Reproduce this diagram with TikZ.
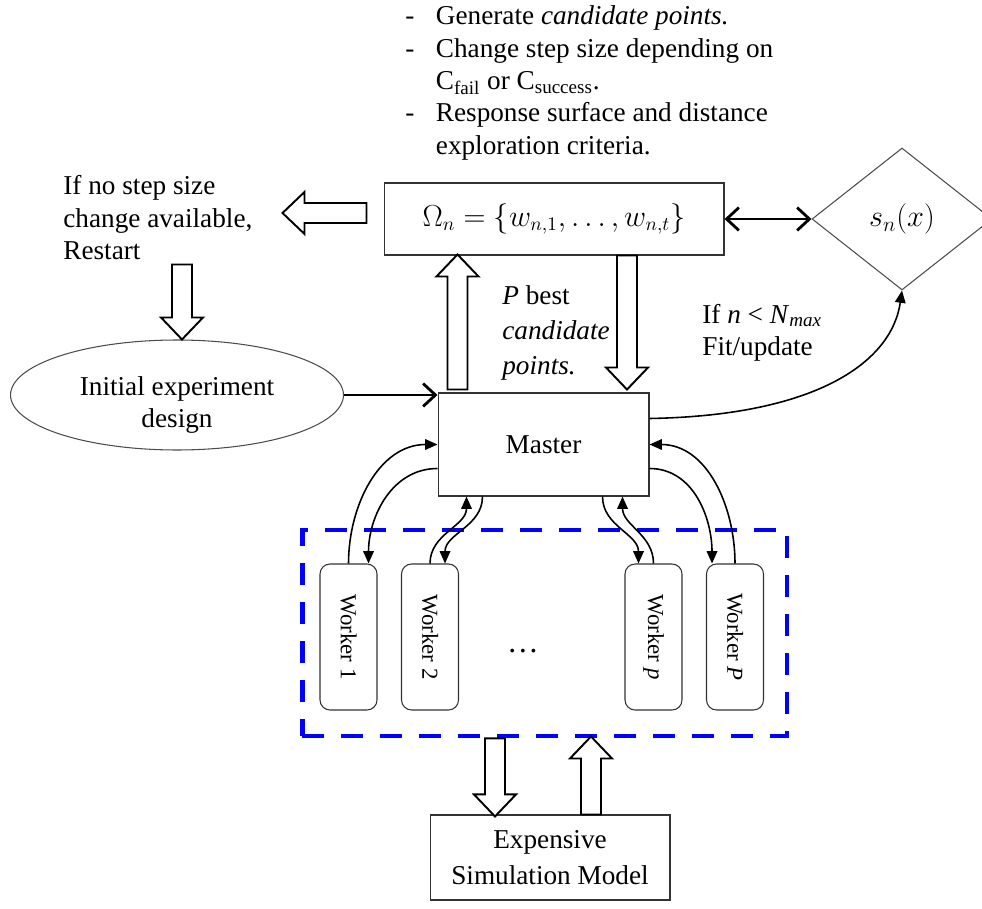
\documentclass[tikz,border=0pt]{standalone}
\usepackage{fontspec}
\setmainfont{Liberation Serif}
\usepackage{graphicx}
\usetikzlibrary{shapes.geometric, arrows.meta, calc}

% block arrow: start point, direction, length
\newcommand{\hollowarrow}[3]{%
  \begin{scope}[shift={#1}, rotate=#2]
    \draw[line width=1.1pt, fill=white] (0,-10) -- (#3-22,-10) -- (#3-22,-21) -- (#3,0)
      -- (#3-22,21) -- (#3-22,10) -- (0,10) -- cycle;
  \end{scope}}

\begin{document}
\begin{tikzpicture}[x=0.02cm, y=-0.02cm, font=\fontsize{15.5}{18.4}\selectfont,
    box/.style={draw=black!80, line width=0.6pt, rectangle, inner sep=0pt},
    worker/.style={draw=black!80, line width=0.6pt, rounded corners=0.2cm, minimum width=1.14cm,
      minimum height=2.92cm, inner sep=0pt, font=\fontsize{13}{15}\selectfont},
    note/.style={inner sep=0pt, anchor=base west},
    link/.style={line width=0.9pt, -{Triangle[length=7pt,width=6pt]}},
    feed/.style={line width=1.6pt, -{Straight Barb[length=7pt,width=13pt]}},
    both/.style={line width=1.6pt, {Straight Barb[length=7pt,width=13pt]}-{Straight Barb[length=7pt,width=13pt]}}]
  \useasboundingbox (0,0) rectangle (982,908);

  % Nodes
  \node[box, minimum width=6.8cm, minimum height=1.44cm, font=\fontsize{16}{19}\selectfont] (omega) at (554,219)
    {$\Omega_n=\{w_{n,1},\dots,w_{n,t}\}$};
  \node[draw=black!70, line width=0.6pt, diamond, minimum width=3.6cm, minimum height=2.84cm, inner sep=0pt,
    font=\fontsize{18}{20}\selectfont] (surr) at (902,219) {$s_n(x)$};
  \node[draw=black!70, line width=0.6pt, ellipse, minimum width=6.66cm, minimum height=2.2cm, inner sep=0pt,
    align=center] (init) at (177,395) {\rule{0pt}{22pt}Initial experiment\\design};
  \node[box, minimum width=4.22cm, minimum height=2.06cm] (master) at (543.5,444.5) {Master};

  \node[draw=blue, line width=2.8pt, dash pattern=on 12.5pt off 9.7pt, minimum width=9.7cm,
    minimum height=4.12cm, inner sep=0pt] (pool) at (544.5,633) {};
  \node[worker] (w1) at (348.5,637) {\rotatebox{-90}{Worker 1}};
  \node[worker] (w2) at (430,637) {\rotatebox{-90}{Worker 2}};
  \node[font=\fontsize{18}{20}\selectfont] (dots) at (523,651) {\dots};
  \node[worker] (wp) at (653.5,637) {\rotatebox{-90}{Worker \textit{p}}};
  \node[worker] (wP) at (735,637) {\rotatebox{-90}{Worker \textit{P}}};

  \node[box, minimum width=4.8cm, minimum height=1.7cm, align=center, font=\fontsize{15.5}{20.5}\selectfont]
    (sim) at (550,857.5) {Expensive\\Simulation Model};

  % Notes
  \node[note] (steps) at (405,25) {\begin{tabular}[t]{@{}l@{\hspace{0.43cm}}l@{}}
      - & Generate \textit{candidate points.}\\
      - & Change step size depending on\\
        & C\textsubscript{fail} or C\textsubscript{success}.\\
      - & Response surface and distance\\
        & exploration criteria.
    \end{tabular}};
  \node[note] (restart) at (63,195) {\begin{tabular}[t]{@{}l@{}}If no step size\\change available,\\Restart\end{tabular}};
  \node[note, font=\fontsize{15.5}{19.8}\selectfont] (best) at (502,305)
    {\begin{tabular}[t]{@{}l@{}}\textit{P} best\\\textit{candidate}\\\textit{points.}\end{tabular}};
  \node[note] (fit) at (702,323)
    {\begin{tabular}[t]{@{}l@{}}If \textit{n} < \textit{N}\textsubscript{\textit{max}}\\Fit/update\end{tabular}};

  % Arrows
  \draw[both] (omega.east) -- (surr.west);
  \draw[feed] (init.east) -- (init.east -| master.west);
  \draw[link] ($(master.east)+(0,-26)$) .. controls +(170,-3) and +(-10,70) .. (surr.south);

  \hollowarrow{($(omega.west)+(-17,-6)$)}{180}{84}
  \hollowarrow{($(init.north)+(5,-75)$)}{-90}{75}
  \hollowarrow{($(master.north west)+(20,-3)$)}{90}{135}
  \hollowarrow{($(omega.south)+(73,0)$)}{-90}{134}
  \hollowarrow{($(pool.south)+(-49.5,0)$)}{-90}{78}
  \hollowarrow{($(sim.north)+(41,0)$)}{90}{78}

  % master <-> workers
  \draw[link] (w1.north) to[out=90,in=180] (master.west);
  \draw[link] ($(master.west)+(0,24)$) to[out=180,in=90] ($(w1.north)+(20,0)$);
  \draw[link] (w2.north) to[out=90,in=-90] ($(master.south west)+(29,0)$);
  \draw[link] ($(master.south west)+(45,0)$) to[out=-90,in=90] ($(w2.north)+(15,0)$);
  \draw[link] ($(master.south east)+(-47,0)$) to[out=-90,in=90] ($(wp.north)+(-15,0)$);
  \draw[link] (wp.north) to[out=90,in=-90] ($(master.south east)+(-27,0)$);
  \draw[link] ($(master.east)+(0,24)$) to[out=0,in=90] ($(wP.north)+(-23,0)$);
  \draw[link] (wP.north) to[out=90,in=0] (master.east);
\end{tikzpicture}
\end{document}
